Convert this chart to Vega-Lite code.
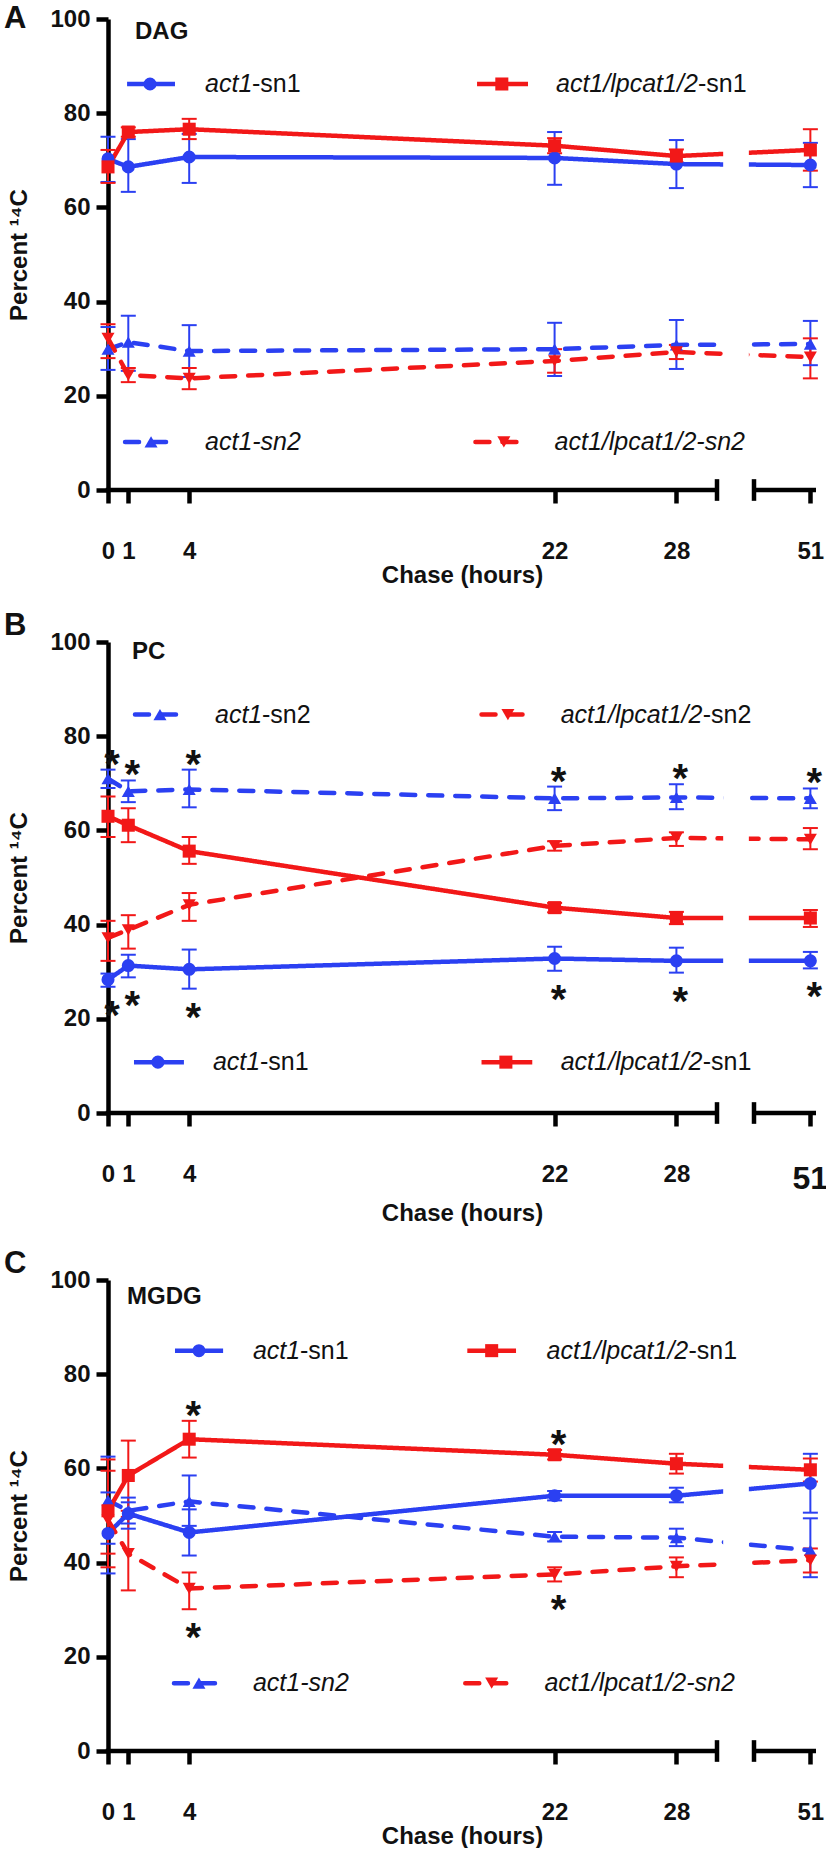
{
"$schema": "https://vega.github.io/schema/vega-lite/v6.json",
"padding": {"left": 3, "top": 3, "right": 0, "bottom": 0},
"autosize": {"type": "pad"},
"spacing": 23,
"datasets": {
"one": [{"k": 1}],
"pts": [
{"p":"A","s":"act1-sn1","t":0,"v":70.3,"lo":65.4,"hi":75.0},
{"p":"A","s":"act1-sn1","t":1,"v":68.6,"lo":63.3,"hi":74.5},
{"p":"A","s":"act1-sn1","t":4,"v":70.7,"lo":65.2,"hi":75.6},
{"p":"A","s":"act1-sn1","t":22,"v":70.5,"lo":64.8,"hi":76.0},
{"p":"A","s":"act1-sn1","t":28,"v":69.2,"lo":64.1,"hi":74.3},
{"p":"A","s":"act1-sn1","t":51,"v":69.0,"lo":64.3,"hi":73.7},
{"p":"A","s":"lpcat-sn1","t":0,"v":68.6,"lo":65.2,"hi":72.2},
{"p":"A","s":"lpcat-sn1","t":1,"v":76.0,"lo":75.0,"hi":77.0},
{"p":"A","s":"lpcat-sn1","t":4,"v":76.6,"lo":74.5,"hi":78.8},
{"p":"A","s":"lpcat-sn1","t":22,"v":73.1,"lo":71.5,"hi":74.7},
{"p":"A","s":"lpcat-sn1","t":28,"v":70.9,"lo":69.5,"hi":72.3},
{"p":"A","s":"lpcat-sn1","t":51,"v":72.2,"lo":67.8,"hi":76.6},
{"p":"A","s":"act1-sn2","t":0,"v":29.9,"lo":25.5,"hi":34.6},
{"p":"A","s":"act1-sn2","t":1,"v":31.4,"lo":25.3,"hi":37.0},
{"p":"A","s":"act1-sn2","t":4,"v":29.5,"lo":24.0,"hi":35.0},
{"p":"A","s":"act1-sn2","t":22,"v":29.9,"lo":24.2,"hi":35.5},
{"p":"A","s":"act1-sn2","t":28,"v":30.8,"lo":25.7,"hi":36.1},
{"p":"A","s":"act1-sn2","t":51,"v":31.0,"lo":26.5,"hi":35.9},
{"p":"A","s":"lpcat-sn2","t":0,"v":32.2,"lo":28.0,"hi":35.2},
{"p":"A","s":"lpcat-sn2","t":1,"v":24.4,"lo":22.9,"hi":25.9},
{"p":"A","s":"lpcat-sn2","t":4,"v":23.7,"lo":21.4,"hi":25.9},
{"p":"A","s":"lpcat-sn2","t":22,"v":27.4,"lo":24.9,"hi":29.9},
{"p":"A","s":"lpcat-sn2","t":28,"v":29.3,"lo":27.8,"hi":30.8},
{"p":"A","s":"lpcat-sn2","t":51,"v":28.2,"lo":23.7,"hi":32.2},
{"p":"B","s":"act1-sn2","t":0,"v":71.0,"lo":69.0,"hi":72.9,"star":"up"},
{"p":"B","s":"act1-sn2","t":1,"v":68.3,"lo":66.0,"hi":70.6,"star":"up"},
{"p":"B","s":"act1-sn2","t":4,"v":68.7,"lo":64.9,"hi":72.9,"star":"up"},
{"p":"B","s":"act1-sn2","t":22,"v":66.8,"lo":64.3,"hi":69.3,"star":"up"},
{"p":"B","s":"act1-sn2","t":28,"v":67.0,"lo":64.5,"hi":69.8,"star":"up"},
{"p":"B","s":"act1-sn2","t":51,"v":66.8,"lo":64.7,"hi":68.9,"star":"up"},
{"p":"B","s":"lpcat-sn1","t":0,"v":63.0,"lo":58.6,"hi":67.2},
{"p":"B","s":"lpcat-sn1","t":1,"v":61.1,"lo":57.5,"hi":64.7},
{"p":"B","s":"lpcat-sn1","t":4,"v":55.6,"lo":52.9,"hi":58.6},
{"p":"B","s":"lpcat-sn1","t":22,"v":43.6,"lo":42.6,"hi":44.6},
{"p":"B","s":"lpcat-sn1","t":28,"v":41.4,"lo":40.1,"hi":42.7},
{"p":"B","s":"lpcat-sn1","t":51,"v":41.4,"lo":39.5,"hi":43.1},
{"p":"B","s":"lpcat-sn2","t":0,"v":37.2,"lo":32.3,"hi":40.8},
{"p":"B","s":"lpcat-sn2","t":1,"v":38.9,"lo":34.9,"hi":42.0},
{"p":"B","s":"lpcat-sn2","t":4,"v":44.2,"lo":40.8,"hi":46.7},
{"p":"B","s":"lpcat-sn2","t":22,"v":56.7,"lo":55.7,"hi":57.7},
{"p":"B","s":"lpcat-sn2","t":28,"v":58.4,"lo":56.7,"hi":59.6},
{"p":"B","s":"lpcat-sn2","t":51,"v":58.1,"lo":56.0,"hi":60.5},
{"p":"B","s":"act1-sn1","t":0,"v":28.3,"lo":26.8,"hi":29.6,"star":"down"},
{"p":"B","s":"act1-sn1","t":1,"v":31.3,"lo":28.8,"hi":33.6,"star":"down"},
{"p":"B","s":"act1-sn1","t":4,"v":30.5,"lo":26.4,"hi":34.7,"star":"down"},
{"p":"B","s":"act1-sn1","t":22,"v":32.8,"lo":30.2,"hi":35.3,"star":"down"},
{"p":"B","s":"act1-sn1","t":28,"v":32.3,"lo":29.8,"hi":35.1,"star":"down"},
{"p":"B","s":"act1-sn1","t":51,"v":32.3,"lo":30.7,"hi":34.2,"star":"down"},
{"p":"C","s":"act1-sn1","t":0,"v":46.2,"lo":37.7,"hi":54.9},
{"p":"C","s":"act1-sn1","t":1,"v":50.4,"lo":47.2,"hi":53.8},
{"p":"C","s":"act1-sn1","t":4,"v":46.4,"lo":41.5,"hi":51.3},
{"p":"C","s":"act1-sn1","t":22,"v":54.2,"lo":53.2,"hi":55.2},
{"p":"C","s":"act1-sn1","t":28,"v":54.2,"lo":52.8,"hi":55.9},
{"p":"C","s":"act1-sn1","t":51,"v":56.8,"lo":50.6,"hi":63.1},
{"p":"C","s":"act1-sn2","t":0,"v":53.2,"lo":44.0,"hi":62.5},
{"p":"C","s":"act1-sn2","t":1,"v":51.0,"lo":48.3,"hi":52.8},
{"p":"C","s":"act1-sn2","t":4,"v":53.0,"lo":47.8,"hi":58.5},
{"p":"C","s":"act1-sn2","t":22,"v":45.5,"lo":44.5,"hi":46.5},
{"p":"C","s":"act1-sn2","t":28,"v":45.3,"lo":43.5,"hi":47.2},
{"p":"C","s":"act1-sn2","t":51,"v":42.6,"lo":36.9,"hi":49.4},
{"p":"C","s":"lpcat-sn1","t":0,"v":51.0,"lo":41.9,"hi":61.9},
{"p":"C","s":"lpcat-sn1","t":1,"v":58.5,"lo":51.0,"hi":65.9},
{"p":"C","s":"lpcat-sn1","t":4,"v":66.2,"lo":62.3,"hi":70.1,"star":"up"},
{"p":"C","s":"lpcat-sn1","t":22,"v":62.9,"lo":61.9,"hi":63.9,"star":"up"},
{"p":"C","s":"lpcat-sn1","t":28,"v":61.0,"lo":58.9,"hi":63.1},
{"p":"C","s":"lpcat-sn1","t":51,"v":59.7,"lo":57.2,"hi":62.1},
{"p":"C","s":"lpcat-sn2","t":0,"v":49.0,"lo":39.0,"hi":59.5},
{"p":"C","s":"lpcat-sn2","t":1,"v":41.9,"lo":34.1,"hi":49.7},
{"p":"C","s":"lpcat-sn2","t":4,"v":34.5,"lo":30.1,"hi":37.9,"star":"down"},
{"p":"C","s":"lpcat-sn2","t":22,"v":37.5,"lo":36.0,"hi":39.0,"star":"down"},
{"p":"C","s":"lpcat-sn2","t":28,"v":39.2,"lo":36.9,"hi":41.1},
{"p":"C","s":"lpcat-sn2","t":51,"v":40.5,"lo":37.9,"hi":43.0}
]
},
"vconcat": [
{
"width": 708, "height": 471,
"title": {"text": "A", "anchor": "start", "frame": "bounds", "fontSize": 31, "fontWeight": "bold", "font": "Liberation Sans", "color": "#111", "offset": -28, "dx": -4},
"layer": [
{"data": {"name": "pts"}, "transform": [{"filter": "datum.p === 'A'"}],
 "layer": [
 {"mark": {"type": "rule", "strokeWidth": 2},
  "encoding": {
   "x": {"field": "t", "type": "quantitative", "title": "Chase (hours)", "scale": {"domain": [0, 30, 48, 51.3], "range": [0, 609, 646, 708], "zero": false, "nice": false},
         "axis": {"values": [0, 1, 4, 22, 28, 51]}},
   "y": {"field": "lo", "type": "quantitative", "title": "Percent ¹⁴C", "scale": {"domain": [0, 100], "nice": false, "zero": true},
         "axis": {"values": [0, 20, 40, 60, 80, 100]}},
   "y2": {"field": "hi"},
   "color": {"field": "s", "type": "nominal", "legend": null, "scale": {"domain": ["act1-sn1", "act1-sn2", "lpcat-sn1", "lpcat-sn2"], "range": ["#2B40F2", "#2B40F2", "#F21818", "#F21818"]}}
  }},
 {"mark": {"type": "tick", "orient": "horizontal", "size": 15, "thickness": 2, "opacity": 1},
  "encoding": {"x": {"field": "t", "type": "quantitative", "title": "Chase (hours)"}, "y": {"field": "lo", "type": "quantitative", "title": "Percent ¹⁴C"}, "color": {"field": "s", "type": "nominal", "legend": null}}},
 {"mark": {"type": "tick", "orient": "horizontal", "size": 15, "thickness": 2, "opacity": 1},
  "encoding": {"x": {"field": "t", "type": "quantitative", "title": "Chase (hours)"}, "y": {"field": "hi", "type": "quantitative", "title": "Percent ¹⁴C"}, "color": {"field": "s", "type": "nominal", "legend": null}}},
 {"mark": {"type": "line", "strokeWidth": 4.5, "strokeCap": "round"},
  "encoding": {"x": {"field": "t", "type": "quantitative", "title": "Chase (hours)"}, "y": {"field": "v", "type": "quantitative", "title": "Percent ¹⁴C"}, "color": {"field": "s", "type": "nominal", "legend": null},
   "strokeDash": {"field": "s", "type": "nominal", "legend": null, "scale": {"domain": ["act1-sn1", "act1-sn2", "lpcat-sn1", "lpcat-sn2"], "range": [[1, 0], [14, 13], [1, 0], [14, 13]]}}}},
 {"mark": {"type": "point", "filled": true, "opacity": 1, "size": 170},
  "encoding": {"x": {"field": "t", "type": "quantitative", "title": "Chase (hours)"}, "y": {"field": "v", "type": "quantitative", "title": "Percent ¹⁴C"}, "color": {"field": "s", "type": "nominal", "legend": null},
   "shape": {"field": "s", "type": "nominal", "legend": null, "scale": {"domain": ["act1-sn1", "act1-sn2", "lpcat-sn1", "lpcat-sn2"], "range": ["circle", "triangle-up", "square", "triangle-down"]}}}}
 ]},
{"data": {"name": "one"},
 "layer": [
 {"mark": {"type": "rect", "color": "white"}, "encoding": {"x": {"datum": 33, "type": "quantitative", "title": "Chase (hours)"}, "x2": {"datum": 45.5}, "y": {"datum": 0.6, "type": "quantitative", "title": "Percent ¹⁴C"}, "y2": {"datum": 100}}},
 {"mark": {"type": "rule", "strokeWidth": 4.5, "color": "black"}, "encoding": {"x": {"datum": -0.11, "type": "quantitative", "title": "Chase (hours)"}, "x2": {"datum": 30}, "y": {"datum": 0, "type": "quantitative", "title": "Percent ¹⁴C"}}},
 {"mark": {"type": "rule", "strokeWidth": 4.5, "color": "black"}, "encoding": {"x": {"datum": 48, "type": "quantitative", "title": "Chase (hours)"}, "x2": {"datum": 51.3}, "y": {"datum": 0, "type": "quantitative", "title": "Percent ¹⁴C"}}},
 {"mark": {"type": "rule", "strokeWidth": 4.5, "color": "black"}, "encoding": {"x": {"datum": 30, "type": "quantitative", "title": "Chase (hours)"}, "y": {"datum": -2.3, "type": "quantitative", "title": "Percent ¹⁴C"}, "y2": {"datum": 2.3}}},
 {"mark": {"type": "rule", "strokeWidth": 4.5, "color": "black"}, "encoding": {"x": {"datum": 48, "type": "quantitative", "title": "Chase (hours)"}, "y": {"datum": -2.3, "type": "quantitative", "title": "Percent ¹⁴C"}, "y2": {"datum": 2.3}}},
 {"mark": {"type": "text", "text": "DAG", "align": "left", "baseline": "middle", "fontSize": 24, "fontWeight": "bold", "color": "#111"}, "encoding": {"x": {"datum": 1.33, "type": "quantitative", "title": "Chase (hours)"}, "y": {"datum": 97.2, "type": "quantitative", "title": "Percent ¹⁴C"}}},

 {"mark": {"type": "rule", "strokeWidth": 4.5, "color": "#2B40F2"}, "encoding": {"x": {"datum": 0.94, "type": "quantitative", "title": "Chase (hours)"}, "x2": {"datum": 3.3}, "y": {"datum": 86.2, "type": "quantitative", "title": "Percent ¹⁴C"}}},
 {"mark": {"type": "point", "shape": "circle", "filled": true, "opacity": 1, "size": 170, "color": "#2B40F2"}, "encoding": {"x": {"datum": 2.07, "type": "quantitative", "title": "Chase (hours)"}, "y": {"datum": 86.2, "type": "quantitative", "title": "Percent ¹⁴C"}}},
 {"mark": {"type": "text", "text": "act1", "align": "left", "baseline": "middle", "fontSize": 25, "fontStyle": "italic", "color": "#111"}, "encoding": {"x": {"datum": 4.78, "type": "quantitative", "title": "Chase (hours)"}, "y": {"datum": 86.2, "type": "quantitative", "title": "Percent ¹⁴C"}}},
 {"mark": {"type": "text", "text": "-sn1", "align": "left", "baseline": "middle", "fontSize": 25, "dx": 47, "color": "#111"}, "encoding": {"x": {"datum": 4.78, "type": "quantitative", "title": "Chase (hours)"}, "y": {"datum": 86.2, "type": "quantitative", "title": "Percent ¹⁴C"}}},

 {"mark": {"type": "rule", "strokeWidth": 4.5, "color": "#F21818"}, "encoding": {"x": {"datum": 18.18, "type": "quantitative", "title": "Chase (hours)"}, "x2": {"datum": 20.69}, "y": {"datum": 86.2, "type": "quantitative", "title": "Percent ¹⁴C"}}},
 {"mark": {"type": "point", "shape": "square", "filled": true, "opacity": 1, "size": 170, "color": "#F21818"}, "encoding": {"x": {"datum": 19.4, "type": "quantitative", "title": "Chase (hours)"}, "y": {"datum": 86.2, "type": "quantitative", "title": "Percent ¹⁴C"}}},
 {"mark": {"type": "text", "text": "act1/lpcat1/2", "align": "left", "baseline": "middle", "fontSize": 25, "fontStyle": "italic", "color": "#111"}, "encoding": {"x": {"datum": 22.07, "type": "quantitative", "title": "Chase (hours)"}, "y": {"datum": 86.2, "type": "quantitative", "title": "Percent ¹⁴C"}}},
 {"mark": {"type": "text", "text": "-sn1", "align": "left", "baseline": "middle", "fontSize": 25, "dx": 142, "color": "#111"}, "encoding": {"x": {"datum": 22.07, "type": "quantitative", "title": "Chase (hours)"}, "y": {"datum": 86.2, "type": "quantitative", "title": "Percent ¹⁴C"}}},

 {"mark": {"type": "rule", "strokeWidth": 4.5, "color": "#2B40F2", "strokeDash": [14, 13], "strokeCap": "round"}, "encoding": {"x": {"datum": 0.84, "type": "quantitative", "title": "Chase (hours)"}, "x2": {"datum": 3.35}, "y": {"datum": 10.2, "type": "quantitative", "title": "Percent ¹⁴C"}}},
 {"mark": {"type": "point", "shape": "triangle-up", "filled": true, "opacity": 1, "size": 170, "color": "#2B40F2"}, "encoding": {"x": {"datum": 2.12, "type": "quantitative", "title": "Chase (hours)"}, "y": {"datum": 10.2, "type": "quantitative", "title": "Percent ¹⁴C"}}},
 {"mark": {"type": "text", "text": "act1-sn2", "align": "left", "baseline": "middle", "fontSize": 25, "fontStyle": "italic", "color": "#111"}, "encoding": {"x": {"datum": 4.78, "type": "quantitative", "title": "Chase (hours)"}, "y": {"datum": 10.2, "type": "quantitative", "title": "Percent ¹⁴C"}}},

 {"mark": {"type": "rule", "strokeWidth": 4.5, "color": "#F21818", "strokeDash": [14, 13], "strokeCap": "round"}, "encoding": {"x": {"datum": 18.1, "type": "quantitative", "title": "Chase (hours)"}, "x2": {"datum": 20.6}, "y": {"datum": 10.2, "type": "quantitative", "title": "Percent ¹⁴C"}}},
 {"mark": {"type": "point", "shape": "triangle-down", "filled": true, "opacity": 1, "size": 170, "color": "#F21818"}, "encoding": {"x": {"datum": 19.5, "type": "quantitative", "title": "Chase (hours)"}, "y": {"datum": 10.2, "type": "quantitative", "title": "Percent ¹⁴C"}}},
 {"mark": {"type": "text", "text": "act1/lpcat1/2-sn2", "align": "left", "baseline": "middle", "fontSize": 25, "fontStyle": "italic", "color": "#111"}, "encoding": {"x": {"datum": 22.0, "type": "quantitative", "title": "Chase (hours)"}, "y": {"datum": 10.2, "type": "quantitative", "title": "Percent ¹⁴C"}}}
 ]}
]
},
{
"width": 708, "height": 471,
"title": {"text": "B", "anchor": "start", "frame": "bounds", "fontSize": 31, "fontWeight": "bold", "font": "Liberation Sans", "color": "#111", "offset": -12, "dx": -4},
"layer": [
{"data": {"name": "pts"}, "transform": [{"filter": "datum.p === 'B'"}],
 "layer": [
 {"mark": {"type": "rule", "strokeWidth": 2},
  "encoding": {
   "x": {"field": "t", "type": "quantitative", "title": "Chase (hours)", "scale": {"domain": [0, 30, 48, 51.3], "range": [0, 609, 646, 708], "zero": false, "nice": false},
         "axis": {"values": [0, 1, 4, 22, 28, 51], "labelExpr": "datum.value === 51 ? '' : datum.label", "titlePadding": 15}},
   "y": {"field": "lo", "type": "quantitative", "title": "Percent ¹⁴C", "scale": {"domain": [0, 100], "nice": false, "zero": true},
         "axis": {"values": [0, 20, 40, 60, 80, 100]}},
   "y2": {"field": "hi"},
   "color": {"field": "s", "type": "nominal", "legend": null, "scale": {"domain": ["act1-sn1", "act1-sn2", "lpcat-sn1", "lpcat-sn2"], "range": ["#2B40F2", "#2B40F2", "#F21818", "#F21818"]}}
  }},
 {"mark": {"type": "tick", "orient": "horizontal", "size": 15, "thickness": 2, "opacity": 1},
  "encoding": {"x": {"field": "t", "type": "quantitative", "title": "Chase (hours)"}, "y": {"field": "lo", "type": "quantitative", "title": "Percent ¹⁴C"}, "color": {"field": "s", "type": "nominal", "legend": null}}},
 {"mark": {"type": "tick", "orient": "horizontal", "size": 15, "thickness": 2, "opacity": 1},
  "encoding": {"x": {"field": "t", "type": "quantitative", "title": "Chase (hours)"}, "y": {"field": "hi", "type": "quantitative", "title": "Percent ¹⁴C"}, "color": {"field": "s", "type": "nominal", "legend": null}}},
 {"mark": {"type": "line", "strokeWidth": 4.5, "strokeCap": "round"},
  "encoding": {"x": {"field": "t", "type": "quantitative", "title": "Chase (hours)"}, "y": {"field": "v", "type": "quantitative", "title": "Percent ¹⁴C"}, "color": {"field": "s", "type": "nominal", "legend": null},
   "strokeDash": {"field": "s", "type": "nominal", "legend": null, "scale": {"domain": ["act1-sn1", "act1-sn2", "lpcat-sn1", "lpcat-sn2"], "range": [[1, 0], [14, 13], [1, 0], [14, 13]]}}}},
 {"mark": {"type": "point", "filled": true, "opacity": 1, "size": 170},
  "encoding": {"x": {"field": "t", "type": "quantitative", "title": "Chase (hours)"}, "y": {"field": "v", "type": "quantitative", "title": "Percent ¹⁴C"}, "color": {"field": "s", "type": "nominal", "legend": null},
   "shape": {"field": "s", "type": "nominal", "legend": null, "scale": {"domain": ["act1-sn1", "act1-sn2", "lpcat-sn1", "lpcat-sn2"], "range": ["circle", "triangle-up", "square", "triangle-down"]}}}},
 {"transform": [{"filter": "datum.star === 'up'"}], "mark": {"type": "text", "text": "*", "fontSize": 40, "fontWeight": "bold", "color": "#111", "dx": 4, "dy": 8, "baseline": "alphabetic", "align": "center"},
  "encoding": {"x": {"field": "t", "type": "quantitative", "title": "Chase (hours)"}, "y": {"field": "hi", "type": "quantitative", "title": "Percent ¹⁴C"}}},
 {"transform": [{"filter": "datum.star === 'down'"}], "mark": {"type": "text", "text": "*", "fontSize": 40, "fontWeight": "bold", "color": "#111", "dx": 4, "dy": 42, "baseline": "alphabetic", "align": "center"},
  "encoding": {"x": {"field": "t", "type": "quantitative", "title": "Chase (hours)"}, "y": {"field": "lo", "type": "quantitative", "title": "Percent ¹⁴C"}}}
 ]},
{"data": {"name": "one"},
 "layer": [
 {"mark": {"type": "rect", "color": "white"}, "encoding": {"x": {"datum": 33, "type": "quantitative", "title": "Chase (hours)"}, "x2": {"datum": 45.5}, "y": {"datum": 0.6, "type": "quantitative", "title": "Percent ¹⁴C"}, "y2": {"datum": 100}}},
 {"mark": {"type": "rule", "strokeWidth": 4.5, "color": "black"}, "encoding": {"x": {"datum": -0.11, "type": "quantitative", "title": "Chase (hours)"}, "x2": {"datum": 30}, "y": {"datum": 0, "type": "quantitative", "title": "Percent ¹⁴C"}}},
 {"mark": {"type": "rule", "strokeWidth": 4.5, "color": "black"}, "encoding": {"x": {"datum": 48, "type": "quantitative", "title": "Chase (hours)"}, "x2": {"datum": 51.3}, "y": {"datum": 0, "type": "quantitative", "title": "Percent ¹⁴C"}}},
 {"mark": {"type": "rule", "strokeWidth": 4.5, "color": "black"}, "encoding": {"x": {"datum": 30, "type": "quantitative", "title": "Chase (hours)"}, "y": {"datum": -2.3, "type": "quantitative", "title": "Percent ¹⁴C"}, "y2": {"datum": 2.3}}},
 {"mark": {"type": "rule", "strokeWidth": 4.5, "color": "black"}, "encoding": {"x": {"datum": 48, "type": "quantitative", "title": "Chase (hours)"}, "y": {"datum": -2.3, "type": "quantitative", "title": "Percent ¹⁴C"}, "y2": {"datum": 2.3}}},
 {"mark": {"type": "text", "text": "51", "align": "center", "baseline": "middle", "fontSize": 32, "fontWeight": "bold", "color": "#111"}, "encoding": {"x": {"datum": 51, "type": "quantitative", "title": "Chase (hours)"}, "y": {"datum": -14, "type": "quantitative", "title": "Percent ¹⁴C"}}},
 {"mark": {"type": "text", "text": "PC", "align": "left", "baseline": "middle", "fontSize": 24, "fontWeight": "bold", "color": "#111"}, "encoding": {"x": {"datum": 1.18, "type": "quantitative", "title": "Chase (hours)"}, "y": {"datum": 97.9, "type": "quantitative", "title": "Percent ¹⁴C"}}},

 {"mark": {"type": "rule", "strokeWidth": 4.5, "color": "#2B40F2", "strokeDash": [14, 13], "strokeCap": "round"}, "encoding": {"x": {"datum": 1.33, "type": "quantitative", "title": "Chase (hours)"}, "x2": {"datum": 3.79}, "y": {"datum": 84.6, "type": "quantitative", "title": "Percent ¹⁴C"}}},
 {"mark": {"type": "point", "shape": "triangle-up", "filled": true, "opacity": 1, "size": 170, "color": "#2B40F2"}, "encoding": {"x": {"datum": 2.56, "type": "quantitative", "title": "Chase (hours)"}, "y": {"datum": 84.6, "type": "quantitative", "title": "Percent ¹⁴C"}}},
 {"mark": {"type": "text", "text": "act1", "align": "left", "baseline": "middle", "fontSize": 25, "fontStyle": "italic", "color": "#111"}, "encoding": {"x": {"datum": 5.27, "type": "quantitative", "title": "Chase (hours)"}, "y": {"datum": 84.6, "type": "quantitative", "title": "Percent ¹⁴C"}}},
 {"mark": {"type": "text", "text": "-sn2", "align": "left", "baseline": "middle", "fontSize": 25, "dx": 47, "color": "#111"}, "encoding": {"x": {"datum": 5.27, "type": "quantitative", "title": "Chase (hours)"}, "y": {"datum": 84.6, "type": "quantitative", "title": "Percent ¹⁴C"}}},

 {"mark": {"type": "rule", "strokeWidth": 4.5, "color": "#F21818", "strokeDash": [14, 13], "strokeCap": "round"}, "encoding": {"x": {"datum": 18.4, "type": "quantitative", "title": "Chase (hours)"}, "x2": {"datum": 20.8}, "y": {"datum": 84.6, "type": "quantitative", "title": "Percent ¹⁴C"}}},
 {"mark": {"type": "point", "shape": "triangle-down", "filled": true, "opacity": 1, "size": 170, "color": "#F21818"}, "encoding": {"x": {"datum": 19.7, "type": "quantitative", "title": "Chase (hours)"}, "y": {"datum": 84.6, "type": "quantitative", "title": "Percent ¹⁴C"}}},
 {"mark": {"type": "text", "text": "act1/lpcat1/2", "align": "left", "baseline": "middle", "fontSize": 25, "fontStyle": "italic", "color": "#111"}, "encoding": {"x": {"datum": 22.3, "type": "quantitative", "title": "Chase (hours)"}, "y": {"datum": 84.6, "type": "quantitative", "title": "Percent ¹⁴C"}}},
 {"mark": {"type": "text", "text": "-sn2", "align": "left", "baseline": "middle", "fontSize": 25, "dx": 142, "color": "#111"}, "encoding": {"x": {"datum": 22.3, "type": "quantitative", "title": "Chase (hours)"}, "y": {"datum": 84.6, "type": "quantitative", "title": "Percent ¹⁴C"}}},

 {"mark": {"type": "rule", "strokeWidth": 4.5, "color": "#2B40F2"}, "encoding": {"x": {"datum": 1.28, "type": "quantitative", "title": "Chase (hours)"}, "x2": {"datum": 3.74}, "y": {"datum": 10.8, "type": "quantitative", "title": "Percent ¹⁴C"}}},
 {"mark": {"type": "point", "shape": "circle", "filled": true, "opacity": 1, "size": 170, "color": "#2B40F2"}, "encoding": {"x": {"datum": 2.46, "type": "quantitative", "title": "Chase (hours)"}, "y": {"datum": 10.8, "type": "quantitative", "title": "Percent ¹⁴C"}}},
 {"mark": {"type": "text", "text": "act1", "align": "left", "baseline": "middle", "fontSize": 25, "fontStyle": "italic", "color": "#111"}, "encoding": {"x": {"datum": 5.17, "type": "quantitative", "title": "Chase (hours)"}, "y": {"datum": 10.8, "type": "quantitative", "title": "Percent ¹⁴C"}}},
 {"mark": {"type": "text", "text": "-sn1", "align": "left", "baseline": "middle", "fontSize": 25, "dx": 47, "color": "#111"}, "encoding": {"x": {"datum": 5.17, "type": "quantitative", "title": "Chase (hours)"}, "y": {"datum": 10.8, "type": "quantitative", "title": "Percent ¹⁴C"}}},

 {"mark": {"type": "rule", "strokeWidth": 4.5, "color": "#F21818"}, "encoding": {"x": {"datum": 18.4, "type": "quantitative", "title": "Chase (hours)"}, "x2": {"datum": 20.9}, "y": {"datum": 10.8, "type": "quantitative", "title": "Percent ¹⁴C"}}},
 {"mark": {"type": "point", "shape": "square", "filled": true, "opacity": 1, "size": 170, "color": "#F21818"}, "encoding": {"x": {"datum": 19.6, "type": "quantitative", "title": "Chase (hours)"}, "y": {"datum": 10.8, "type": "quantitative", "title": "Percent ¹⁴C"}}},
 {"mark": {"type": "text", "text": "act1/lpcat1/2", "align": "left", "baseline": "middle", "fontSize": 25, "fontStyle": "italic", "color": "#111"}, "encoding": {"x": {"datum": 22.3, "type": "quantitative", "title": "Chase (hours)"}, "y": {"datum": 10.8, "type": "quantitative", "title": "Percent ¹⁴C"}}},
 {"mark": {"type": "text", "text": "-sn1", "align": "left", "baseline": "middle", "fontSize": 25, "dx": 142, "color": "#111"}, "encoding": {"x": {"datum": 22.3, "type": "quantitative", "title": "Chase (hours)"}, "y": {"datum": 10.8, "type": "quantitative", "title": "Percent ¹⁴C"}}}
 ]}
]
},
{
"width": 708, "height": 471,
"title": {"text": "C", "anchor": "start", "frame": "bounds", "fontSize": 31, "fontWeight": "bold", "font": "Liberation Sans", "color": "#111", "offset": -12, "dx": -4},
"layer": [
{"data": {"name": "pts"}, "transform": [{"filter": "datum.p === 'C'"}],
 "layer": [
 {"mark": {"type": "rule", "strokeWidth": 2},
  "encoding": {
   "x": {"field": "t", "type": "quantitative", "title": "Chase (hours)", "scale": {"domain": [0, 30, 48, 51.3], "range": [0, 609, 646, 708], "zero": false, "nice": false},
         "axis": {"values": [0, 1, 4, 22, 28, 51]}},
   "y": {"field": "lo", "type": "quantitative", "title": "Percent ¹⁴C", "scale": {"domain": [0, 100], "nice": false, "zero": true},
         "axis": {"values": [0, 20, 40, 60, 80, 100]}},
   "y2": {"field": "hi"},
   "color": {"field": "s", "type": "nominal", "legend": null, "scale": {"domain": ["act1-sn1", "act1-sn2", "lpcat-sn1", "lpcat-sn2"], "range": ["#2B40F2", "#2B40F2", "#F21818", "#F21818"]}}
  }},
 {"mark": {"type": "tick", "orient": "horizontal", "size": 15, "thickness": 2, "opacity": 1},
  "encoding": {"x": {"field": "t", "type": "quantitative", "title": "Chase (hours)"}, "y": {"field": "lo", "type": "quantitative", "title": "Percent ¹⁴C"}, "color": {"field": "s", "type": "nominal", "legend": null}}},
 {"mark": {"type": "tick", "orient": "horizontal", "size": 15, "thickness": 2, "opacity": 1},
  "encoding": {"x": {"field": "t", "type": "quantitative", "title": "Chase (hours)"}, "y": {"field": "hi", "type": "quantitative", "title": "Percent ¹⁴C"}, "color": {"field": "s", "type": "nominal", "legend": null}}},
 {"mark": {"type": "line", "strokeWidth": 4.5, "strokeCap": "round"},
  "encoding": {"x": {"field": "t", "type": "quantitative", "title": "Chase (hours)"}, "y": {"field": "v", "type": "quantitative", "title": "Percent ¹⁴C"}, "color": {"field": "s", "type": "nominal", "legend": null},
   "strokeDash": {"field": "s", "type": "nominal", "legend": null, "scale": {"domain": ["act1-sn1", "act1-sn2", "lpcat-sn1", "lpcat-sn2"], "range": [[1, 0], [14, 13], [1, 0], [14, 13]]}}}},
 {"mark": {"type": "point", "filled": true, "opacity": 1, "size": 170},
  "encoding": {"x": {"field": "t", "type": "quantitative", "title": "Chase (hours)"}, "y": {"field": "v", "type": "quantitative", "title": "Percent ¹⁴C"}, "color": {"field": "s", "type": "nominal", "legend": null},
   "shape": {"field": "s", "type": "nominal", "legend": null, "scale": {"domain": ["act1-sn1", "act1-sn2", "lpcat-sn1", "lpcat-sn2"], "range": ["circle", "triangle-up", "square", "triangle-down"]}}}},
 {"transform": [{"filter": "datum.star === 'up'"}], "mark": {"type": "text", "text": "*", "fontSize": 40, "fontWeight": "bold", "color": "#111", "dx": 4, "dy": 8, "baseline": "alphabetic", "align": "center"},
  "encoding": {"x": {"field": "t", "type": "quantitative", "title": "Chase (hours)"}, "y": {"field": "hi", "type": "quantitative", "title": "Percent ¹⁴C"}}},
 {"transform": [{"filter": "datum.star === 'down'"}], "mark": {"type": "text", "text": "*", "fontSize": 40, "fontWeight": "bold", "color": "#111", "dx": 4, "dy": 42, "baseline": "alphabetic", "align": "center"},
  "encoding": {"x": {"field": "t", "type": "quantitative", "title": "Chase (hours)"}, "y": {"field": "lo", "type": "quantitative", "title": "Percent ¹⁴C"}}}
 ]},
{"data": {"name": "one"},
 "layer": [
 {"mark": {"type": "rect", "color": "white"}, "encoding": {"x": {"datum": 33, "type": "quantitative", "title": "Chase (hours)"}, "x2": {"datum": 45.5}, "y": {"datum": 0.6, "type": "quantitative", "title": "Percent ¹⁴C"}, "y2": {"datum": 100}}},
 {"mark": {"type": "rule", "strokeWidth": 4.5, "color": "black"}, "encoding": {"x": {"datum": -0.11, "type": "quantitative", "title": "Chase (hours)"}, "x2": {"datum": 30}, "y": {"datum": 0, "type": "quantitative", "title": "Percent ¹⁴C"}}},
 {"mark": {"type": "rule", "strokeWidth": 4.5, "color": "black"}, "encoding": {"x": {"datum": 48, "type": "quantitative", "title": "Chase (hours)"}, "x2": {"datum": 51.3}, "y": {"datum": 0, "type": "quantitative", "title": "Percent ¹⁴C"}}},
 {"mark": {"type": "rule", "strokeWidth": 4.5, "color": "black"}, "encoding": {"x": {"datum": 30, "type": "quantitative", "title": "Chase (hours)"}, "y": {"datum": -2.3, "type": "quantitative", "title": "Percent ¹⁴C"}, "y2": {"datum": 2.3}}},
 {"mark": {"type": "rule", "strokeWidth": 4.5, "color": "black"}, "encoding": {"x": {"datum": 48, "type": "quantitative", "title": "Chase (hours)"}, "y": {"datum": -2.3, "type": "quantitative", "title": "Percent ¹⁴C"}, "y2": {"datum": 2.3}}},
 {"mark": {"type": "text", "text": "MGDG", "align": "left", "baseline": "middle", "fontSize": 24, "fontWeight": "bold", "color": "#111"}, "encoding": {"x": {"datum": 0.94, "type": "quantitative", "title": "Chase (hours)"}, "y": {"datum": 96.4, "type": "quantitative", "title": "Percent ¹⁴C"}}},

 {"mark": {"type": "rule", "strokeWidth": 4.5, "color": "#2B40F2"}, "encoding": {"x": {"datum": 3.3, "type": "quantitative", "title": "Chase (hours)"}, "x2": {"datum": 5.67}, "y": {"datum": 85, "type": "quantitative", "title": "Percent ¹⁴C"}}},
 {"mark": {"type": "point", "shape": "circle", "filled": true, "opacity": 1, "size": 170, "color": "#2B40F2"}, "encoding": {"x": {"datum": 4.48, "type": "quantitative", "title": "Chase (hours)"}, "y": {"datum": 85, "type": "quantitative", "title": "Percent ¹⁴C"}}},
 {"mark": {"type": "text", "text": "act1", "align": "left", "baseline": "middle", "fontSize": 25, "fontStyle": "italic", "color": "#111"}, "encoding": {"x": {"datum": 7.14, "type": "quantitative", "title": "Chase (hours)"}, "y": {"datum": 85, "type": "quantitative", "title": "Percent ¹⁴C"}}},
 {"mark": {"type": "text", "text": "-sn1", "align": "left", "baseline": "middle", "fontSize": 25, "dx": 47, "color": "#111"}, "encoding": {"x": {"datum": 7.14, "type": "quantitative", "title": "Chase (hours)"}, "y": {"datum": 85, "type": "quantitative", "title": "Percent ¹⁴C"}}},

 {"mark": {"type": "rule", "strokeWidth": 4.5, "color": "#F21818"}, "encoding": {"x": {"datum": 17.7, "type": "quantitative", "title": "Chase (hours)"}, "x2": {"datum": 20.1}, "y": {"datum": 85, "type": "quantitative", "title": "Percent ¹⁴C"}}},
 {"mark": {"type": "point", "shape": "square", "filled": true, "opacity": 1, "size": 170, "color": "#F21818"}, "encoding": {"x": {"datum": 18.9, "type": "quantitative", "title": "Chase (hours)"}, "y": {"datum": 85, "type": "quantitative", "title": "Percent ¹⁴C"}}},
 {"mark": {"type": "text", "text": "act1/lpcat1/2", "align": "left", "baseline": "middle", "fontSize": 25, "fontStyle": "italic", "color": "#111"}, "encoding": {"x": {"datum": 21.6, "type": "quantitative", "title": "Chase (hours)"}, "y": {"datum": 85, "type": "quantitative", "title": "Percent ¹⁴C"}}},
 {"mark": {"type": "text", "text": "-sn1", "align": "left", "baseline": "middle", "fontSize": 25, "dx": 142, "color": "#111"}, "encoding": {"x": {"datum": 21.6, "type": "quantitative", "title": "Chase (hours)"}, "y": {"datum": 85, "type": "quantitative", "title": "Percent ¹⁴C"}}},

 {"mark": {"type": "rule", "strokeWidth": 4.5, "color": "#2B40F2", "strokeDash": [14, 13], "strokeCap": "round"}, "encoding": {"x": {"datum": 3.25, "type": "quantitative", "title": "Chase (hours)"}, "x2": {"datum": 5.71}, "y": {"datum": 14.4, "type": "quantitative", "title": "Percent ¹⁴C"}}},
 {"mark": {"type": "point", "shape": "triangle-up", "filled": true, "opacity": 1, "size": 170, "color": "#2B40F2"}, "encoding": {"x": {"datum": 4.48, "type": "quantitative", "title": "Chase (hours)"}, "y": {"datum": 14.4, "type": "quantitative", "title": "Percent ¹⁴C"}}},
 {"mark": {"type": "text", "text": "act1-sn2", "align": "left", "baseline": "middle", "fontSize": 25, "fontStyle": "italic", "color": "#111"}, "encoding": {"x": {"datum": 7.14, "type": "quantitative", "title": "Chase (hours)"}, "y": {"datum": 14.4, "type": "quantitative", "title": "Percent ¹⁴C"}}},

 {"mark": {"type": "rule", "strokeWidth": 4.5, "color": "#F21818", "strokeDash": [14, 13], "strokeCap": "round"}, "encoding": {"x": {"datum": 17.6, "type": "quantitative", "title": "Chase (hours)"}, "x2": {"datum": 20.1}, "y": {"datum": 14.4, "type": "quantitative", "title": "Percent ¹⁴C"}}},
 {"mark": {"type": "point", "shape": "triangle-down", "filled": true, "opacity": 1, "size": 170, "color": "#F21818"}, "encoding": {"x": {"datum": 18.9, "type": "quantitative", "title": "Chase (hours)"}, "y": {"datum": 14.4, "type": "quantitative", "title": "Percent ¹⁴C"}}},
 {"mark": {"type": "text", "text": "act1/lpcat1/2-sn2", "align": "left", "baseline": "middle", "fontSize": 25, "fontStyle": "italic", "color": "#111"}, "encoding": {"x": {"datum": 21.5, "type": "quantitative", "title": "Chase (hours)"}, "y": {"datum": 14.4, "type": "quantitative", "title": "Percent ¹⁴C"}}}
 ]}
]
}
],
"config": {
 "font": "Liberation Sans",
 "view": {"stroke": null},
 "legend": {"disable": true},
 "axis": {"grid": false, "labelColor": "#111", "titleColor": "#111", "tickColor": "black", "domainColor": "black", "labelFont": "Liberation Sans", "titleFont": "Liberation Sans", "labelFontWeight": "bold", "titleFontWeight": "bold", "titleFontSize": 24, "labelFontSize": 24, "tickWidth": 4.5, "labelFlush": false, "labelOverlap": false, "labelBound": false},
 "axisX": {"domain": false, "tickSize": 13, "labelPadding": 36, "titlePadding": 0},
 "axisY": {"domain": true, "domainWidth": 4.5, "tickSize": 12, "labelPadding": 6, "titlePadding": 18},
 "text": {"font": "Liberation Sans"}
}
}
